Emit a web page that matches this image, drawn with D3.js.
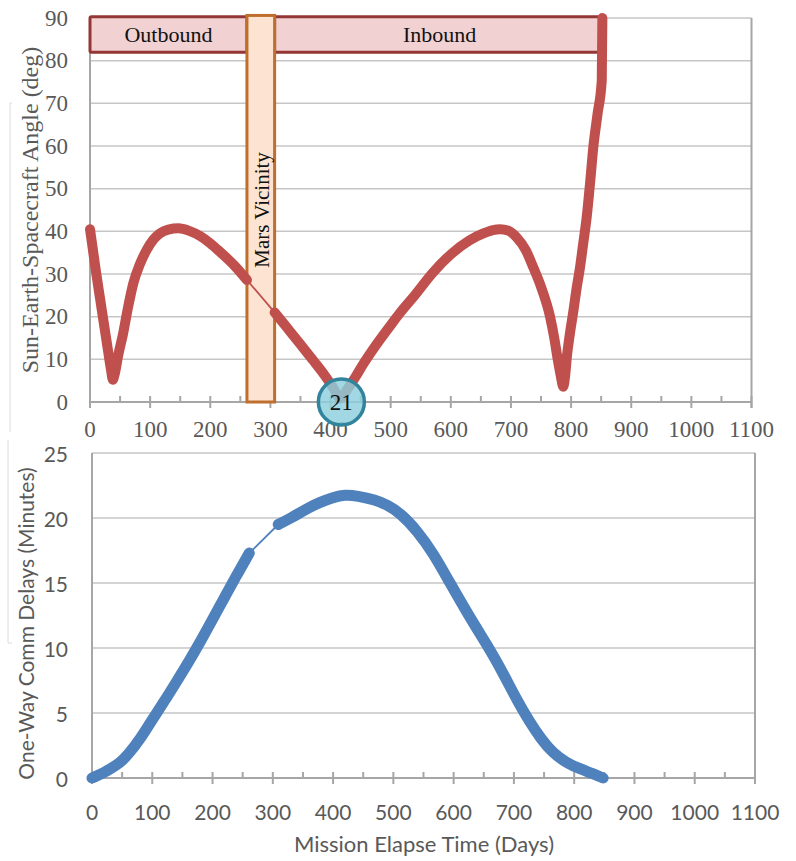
<!DOCTYPE html>
<html>
<head>
<meta charset="utf-8">
<script src="https://cdn.jsdelivr.net/npm/d3@7"></script>
<style>
  body { margin: 0; background: #fff; }
  svg { display: block; }
</style>
</head>
<body>
<div id="chart"></div>
<script>
// --- data ---
const xTicks = [0, 100, 200, 300, 400, 500, 600, 700, 800, 900, 1000, 1100];
const angleTicks = [0, 10, 20, 30, 40, 50, 60, 70, 80, 90];
const delayTicks = [0, 5, 10, 15, 20, 25];

// Sun-Earth-Spacecraft angle, outbound leg (days, deg)
const angleDaysOut = [0, 5, 10, 17, 24, 30, 35, 38, 41, 47, 55, 63, 72, 83, 94, 105, 116, 130, 147, 165, 183, 200, 216, 240, 261];
const angleValsOut = [40.5, 35.5, 30.5, 24, 17.5, 12, 7.5, 5.2, 6.5, 11, 16, 22, 27.8, 32.3, 35.6, 38, 39.5, 40.4, 40.7, 40.1, 38.9, 37.2, 35.2, 32, 28.6];
// inbound leg
const angleDaysIn = [307, 330, 350, 372, 390, 405, 416, 428, 442, 454, 475, 500, 515, 540, 570, 600, 630, 654, 670, 682, 695, 710, 725, 737, 750, 765, 772, 778, 783, 787, 790, 793, 798, 804, 809, 815, 820, 826, 832, 837, 844, 851, 852];
const angleValsIn = [21, 17, 13.5, 9.6, 6.3, 3.2, 0.8, 3.0, 6.0, 8.8, 13.2, 18.0, 20.8, 25.0, 30.3, 34.6, 37.8, 39.5, 40.3, 40.5, 40.2, 38.5, 35.5, 31.6, 27, 20, 15, 9.8, 6, 3.6, 6, 10.6, 16, 21.5, 26.5, 31.7, 37, 43.4, 52, 59.8, 67.5, 75.4, 90];

// one-way comm delay (days, minutes)
const delayDaysOut = [0, 15, 30, 45, 60, 80, 100, 120, 140, 160, 180, 200, 220, 240, 261];
const delayValsOut = [0, 0.3, 0.7, 1.1, 1.8, 3.0, 4.5, 5.9, 7.4, 8.9, 10.5, 12.2, 13.9, 15.6, 17.3];
const delayDaysIn = [309, 330, 345, 360, 378, 400, 420, 440, 470, 490, 511, 540, 566, 594, 620, 645, 665, 685, 705, 725, 745, 765, 788, 810, 830, 848];
const delayValsIn = [19.5, 20.0, 20.4, 20.8, 21.2, 21.6, 21.8, 21.7, 21.4, 21.0, 20.4, 19.0, 17.3, 15.0, 12.9, 11.0, 9.5, 7.8, 6.0, 4.4, 3.0, 1.9, 1.15, 0.7, 0.35, 0];

// mission phases
const phaseNames = ["Outbound", "Inbound"];
const phaseStart = [0, 307];
const phaseEnd = [261, 856];
const phaseLow = 82;
const phaseHigh = 90.3;
const marsStart = 261;
const marsEnd = 307;
const conjunctionDay = 418;
const conjunctionLabel = "21";

const width = 796, height = 861;

const svg = d3.select("#chart")
  .append("svg")
  .attr("width", width)
  .attr("height", height)
  .attr("viewBox", `0 0 ${width} ${height}`);

const gridColor = "#c6c6c6";
const axisColor = "#a6a6a6";
const labelColor = "#595959";
const serif = "'Liberation Serif', 'Times New Roman', serif";
const sans = "Lato, 'Open Sans', sans-serif";

const zip = (xs, ys) => xs.map((d, i) => [d, ys[i]]);

// faint container edges on the left
svg.append("path")
  .attr("d", "M12,103 H10 V432")
  .attr("fill", "none").attr("stroke", "#dcdcdc").attr("stroke-width", 1);
svg.append("path")
  .attr("d", "M12,643 H8 V440")
  .attr("fill", "none").attr("stroke", "#dcdcdc").attr("stroke-width", 1);

// generic frame: grid, border, ticks, labels
function drawFrame(x, y, yTicks, font, fontSize, labelGap) {
  const g = svg.append("g");
  const [x0, x1] = x.range();
  const [y0, y1] = y.range();

  g.selectAll(".grid")
    .data(yTicks.slice(1))
    .join("line")
      .attr("x1", x0).attr("x2", x1)
      .attr("y1", d => y(d)).attr("y2", d => y(d))
      .attr("stroke", gridColor).attr("stroke-width", 1.5);

  // right border, left axis and x axis
  g.append("line")
    .attr("x1", x1).attr("x2", x1).attr("y1", y1).attr("y2", y0 + 6)
    .attr("stroke", axisColor).attr("stroke-width", 2);
  g.append("line")
    .attr("x1", x0).attr("x2", x0).attr("y1", y1).attr("y2", y0 + 6)
    .attr("stroke", axisColor).attr("stroke-width", 2);
  g.append("line")
    .attr("x1", x0).attr("x2", x1).attr("y1", y0).attr("y2", y0)
    .attr("stroke", axisColor).attr("stroke-width", 2);

  // major ticks cross the axis, minor ticks sit above it
  g.selectAll(".major")
    .data(xTicks)
    .join("line")
      .attr("x1", d => x(d)).attr("x2", d => x(d))
      .attr("y1", y0 - 6).attr("y2", y0 + 6)
      .attr("stroke", axisColor).attr("stroke-width", 2);
  g.selectAll(".minor")
    .data(xTicks.slice(0, -1).map(d => d + 50))
    .join("line")
      .attr("x1", d => x(d)).attr("x2", d => x(d))
      .attr("y1", y0 - 6).attr("y2", y0)
      .attr("stroke", axisColor).attr("stroke-width", 2);

  g.selectAll(".xlab")
    .data(xTicks)
    .join("text")
      .attr("x", d => x(d))
      .attr("y", y0 + labelGap)
      .attr("text-anchor", "middle")
      .attr("dominant-baseline", "central")
      .attr("font-family", font).attr("font-size", fontSize)
      .attr("fill", labelColor)
      .text(d => d);

  g.selectAll(".ylab")
    .data(yTicks)
    .join("text")
      .attr("x", 68)
      .attr("y", d => y(d))
      .attr("text-anchor", "end")
      .attr("dominant-baseline", "central")
      .attr("font-family", font).attr("font-size", fontSize)
      .attr("fill", labelColor)
      .text(d => d);
  return g;
}

// ---------- top chart: Sun-Earth-Spacecraft angle ----------
const xTop = d3.scaleLinear().domain([0, 1100]).range([90, 751.5]);
const yTop = d3.scaleLinear().domain([0, 90]).range([402, 18]);

drawFrame(xTop, yTop, angleTicks, serif, 23, 27);

svg.append("text")
  .attr("transform", `translate(30, ${(yTop(0) + yTop(90)) / 2}) rotate(-90)`)
  .attr("text-anchor", "middle")
  .attr("dominant-baseline", "central")
  .attr("font-family", serif).attr("font-size", 24)
  .attr("fill", labelColor)
  .text("Sun-Earth-Spacecraft Angle (deg)");

// phase bars
const phases = phaseNames.map((name, i) => ({ name, start: phaseStart[i], end: phaseEnd[i] }));
svg.selectAll(".phase")
  .data(phases)
  .join("rect")
    .attr("x", d => xTop(d.start))
    .attr("y", yTop(phaseHigh))
    .attr("width", d => xTop(d.end) - xTop(d.start))
    .attr("height", yTop(phaseLow) - yTop(phaseHigh))
    .attr("rx", 1.5)
    .attr("fill", "#f2d1d3")
    .attr("stroke", "#943634")
    .attr("stroke-width", 3);
svg.selectAll(".phaseLabel")
  .data(phases)
  .join("text")
    .attr("x", d => (xTop(d.start) + xTop(d.end)) / 2)
    .attr("y", (yTop(phaseHigh) + yTop(phaseLow)) / 2)
    .attr("text-anchor", "middle")
    .attr("dominant-baseline", "central")
    .attr("font-family", serif).attr("font-size", 22)
    .attr("fill", "#111")
    .text(d => d.name);

// Mars vicinity box
svg.append("rect")
  .attr("x", xTop(marsStart))
  .attr("y", yTop(90.6))
  .attr("width", xTop(marsEnd) - xTop(marsStart))
  .attr("height", yTop(0) - yTop(90.6))
  .attr("fill", "#fde4d2")
  .attr("stroke", "#bf6f2d")
  .attr("stroke-width", 3);
svg.append("text")
  .attr("transform", `translate(${(xTop(marsStart) + xTop(marsEnd)) / 2 + 1}, 210) rotate(-90)`)
  .attr("text-anchor", "middle")
  .attr("dominant-baseline", "central")
  .attr("font-family", serif).attr("font-size", 21)
  .attr("fill", "#111")
  .text("Mars Vicinity");

const lineTop = d3.line()
  .x(d => xTop(d[0]))
  .y(d => yTop(d[1]))
  .curve(d3.curveMonotoneX);

const red = "#c0504d";
const angleOut = zip(angleDaysOut, angleValsOut);
const angleIn = zip(angleDaysIn, angleValsIn);

// thin link across the missing Mars-vicinity data
svg.append("path")
  .attr("d", d3.line().x(d => xTop(d[0])).y(d => yTop(d[1]))([angleOut[angleOut.length - 1], angleIn[0]]))
  .attr("stroke", red).attr("stroke-width", 1.8).attr("fill", "none");

[angleOut, angleIn].forEach(seg => {
  svg.append("path")
    .attr("d", lineTop(seg))
    .attr("fill", "none")
    .attr("stroke", red)
    .attr("stroke-width", 10)
    .attr("stroke-linecap", "round")
    .attr("stroke-linejoin", "round");
});

// conjunction marker
svg.append("circle")
  .attr("cx", xTop(conjunctionDay))
  .attr("cy", yTop(0))
  .attr("r", 23)
  .attr("fill", "#8ccfdd")
  .attr("fill-opacity", 0.82)
  .attr("stroke", "#31849b")
  .attr("stroke-width", 3.5);
svg.append("text")
  .attr("x", xTop(conjunctionDay))
  .attr("y", yTop(0))
  .attr("text-anchor", "middle")
  .attr("dominant-baseline", "central")
  .attr("font-family", serif).attr("font-size", 23)
  .attr("fill", "#111")
  .text(conjunctionLabel);

// ---------- bottom chart: one-way comm delay ----------
const xBot = d3.scaleLinear().domain([0, 1100]).range([92, 755]);
const yBot = d3.scaleLinear().domain([0, 25]).range([778, 453]);

drawFrame(xBot, yBot, delayTicks, sans, 21, 33);

svg.append("text")
  .attr("transform", `translate(25, ${(yBot(0) + yBot(25)) / 2 + 8}) rotate(-90)`)
  .attr("text-anchor", "middle")
  .attr("dominant-baseline", "central")
  .attr("font-family", sans).attr("font-size", 21)
  .attr("fill", labelColor)
  .text("One-Way Comm Delays (Minutes)");

svg.append("text")
  .attr("x", 424)
  .attr("y", 843)
  .attr("text-anchor", "middle")
  .attr("dominant-baseline", "central")
  .attr("font-family", sans).attr("font-size", 22)
  .attr("fill", labelColor)
  .text("Mission Elapse Time (Days)");

const lineBot = d3.line()
  .x(d => xBot(d[0]))
  .y(d => yBot(d[1]))
  .curve(d3.curveBasis);

const blue = "#4f81bd";
const delayOut = zip(delayDaysOut, delayValsOut);
const delayIn = zip(delayDaysIn, delayValsIn);

svg.append("path")
  .attr("d", d3.line().x(d => xBot(d[0])).y(d => yBot(d[1]))([delayOut[delayOut.length - 1], delayIn[0]]))
  .attr("stroke", blue).attr("stroke-width", 1.8).attr("fill", "none");

[delayOut, delayIn].forEach(seg => {
  svg.append("path")
    .attr("d", lineBot(seg))
    .attr("fill", "none")
    .attr("stroke", blue)
    .attr("stroke-width", 11)
    .attr("stroke-linecap", "round")
    .attr("stroke-linejoin", "round");
});
</script>
</body>
</html>
